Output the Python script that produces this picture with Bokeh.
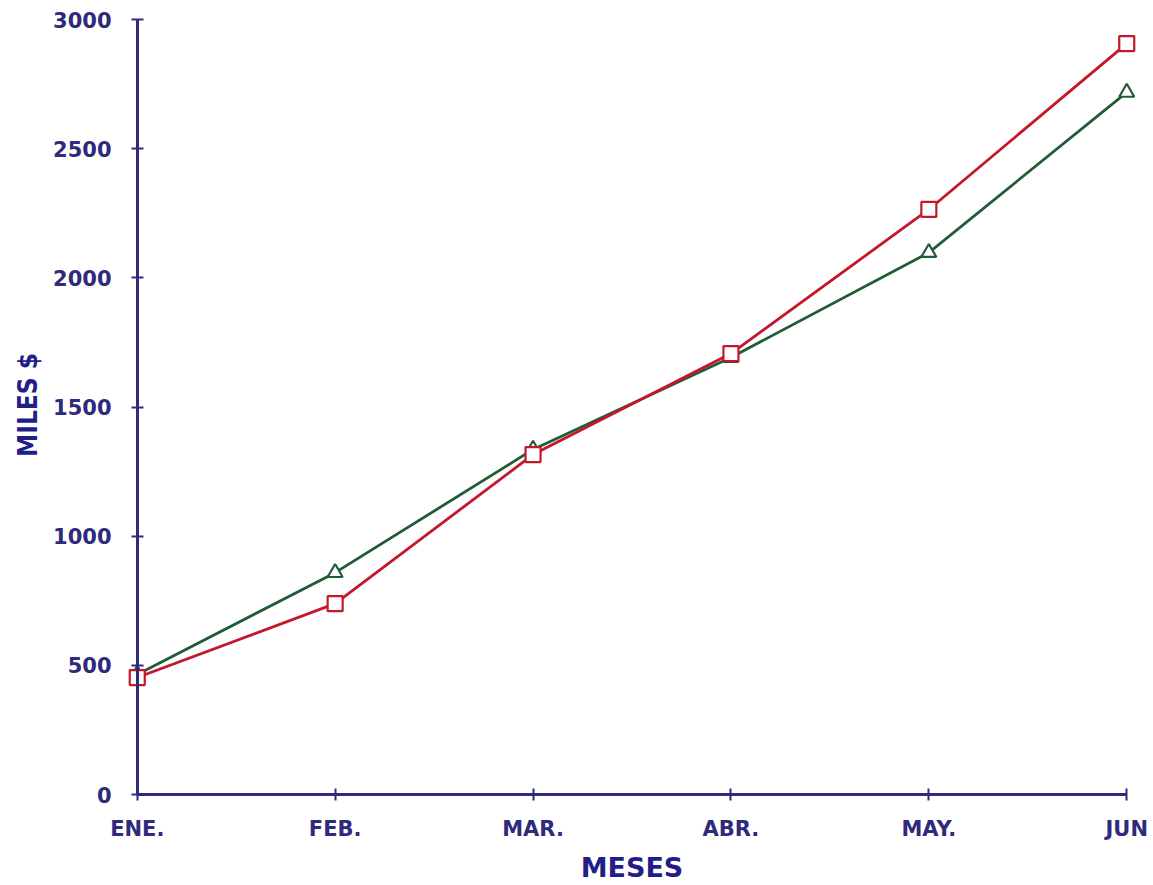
from bokeh.plotting import figure
from bokeh.models import FixedTicker, Range1d, LinearAxis
from bokeh.embed import file_html
from bokeh.resources import INLINE

meses = ["ENE.", "FEB.", "MAR.", "ABR.", "MAY.", "JUN"]
serie_roja = [453, 739, 1316, 1707, 2265, 2907]
serie_verde = [465, 859, 1336, 1692, 2098, 2718]
y_ticks = [0, 500, 1000, 1500, 2000, 2500, 3000]

NAVY = "#2e2a7c"
TITLE_BLUE = "#231d8a"
RED = "#c4172c"
GREEN = "#215c36"

x = list(range(len(meses)))

p = figure(width=1153, height=885, output_backend="svg", toolbar_location=None,
           x_range=Range1d(-0.12, 5.12), y_range=Range1d(-54, 3070),
           min_border_left=113, min_border_right=3, min_border_top=1, min_border_bottom=73)
p.outline_line_color = None
p.xgrid.visible = False
p.ygrid.visible = False
p.background_fill_color = "white"
p.border_fill_color = "white"

# label axes (at frame edges): only tick labels and titles
for ax in (p.xaxis[0], p.yaxis[0]):
    ax.axis_line_color = None
    ax.major_tick_line_color = None
    ax.minor_tick_line_color = None
    ax.major_tick_in = 0
    ax.major_tick_out = 0
    ax.major_label_text_color = NAVY
    ax.major_label_text_font = "DejaVu Sans"
    ax.major_label_text_font_size = "21px"
    ax.major_label_text_font_style = "bold"
    ax.axis_label_text_color = TITLE_BLUE
    ax.axis_label_text_font_style = "bold"

p.xaxis.ticker = FixedTicker(ticks=x)
p.xaxis.major_label_overrides = {i: m for i, m in enumerate(meses)}
p.yaxis.ticker = FixedTicker(ticks=y_ticks)
p.xaxis.major_label_standoff = 8
p.yaxis.major_label_standoff = 2
p.xaxis.axis_label = "MESES"
p.xaxis.axis_label_text_font = "DejaVu Sans"
p.xaxis.axis_label_text_font_size = "27px"
p.xaxis.axis_label_standoff = 8
p.yaxis.axis_label = "MILES $"
p.yaxis.axis_label_text_font = "DejaVu Sans Condensed, DejaVu Sans"
p.yaxis.axis_label_text_font_size = "26px"
p.yaxis.axis_label_standoff = 7

# axis lines crossing at the origin (tick marks only, no labels)
for side, ticks, bounds in (("below", x, (0, 5)), ("left", y_ticks, (0, 3000))):
    ax = LinearAxis(fixed_location=0, bounds=bounds,
                    ticker=FixedTicker(ticks=[], minor_ticks=ticks))
    ax.axis_line_color = NAVY
    ax.axis_line_width = 3
    ax.major_tick_line_color = None
    ax.minor_tick_line_color = NAVY
    ax.minor_tick_line_width = 2
    ax.minor_tick_in = 6
    ax.minor_tick_out = 6
    p.add_layout(ax, side)

p.line(x, serie_verde, line_color=GREEN, line_width=2.8)
p.line(x, serie_roja, line_color=RED, line_width=2.8)
p.scatter(x, serie_verde, marker="triangle", size=15, line_color=GREEN, line_width=2.2, fill_color="white")
p.scatter(x, serie_roja, marker="square", size=15, line_color=RED, line_width=2.2, fill_color="white")

open("out.html", "w").write(file_html(p, INLINE))
